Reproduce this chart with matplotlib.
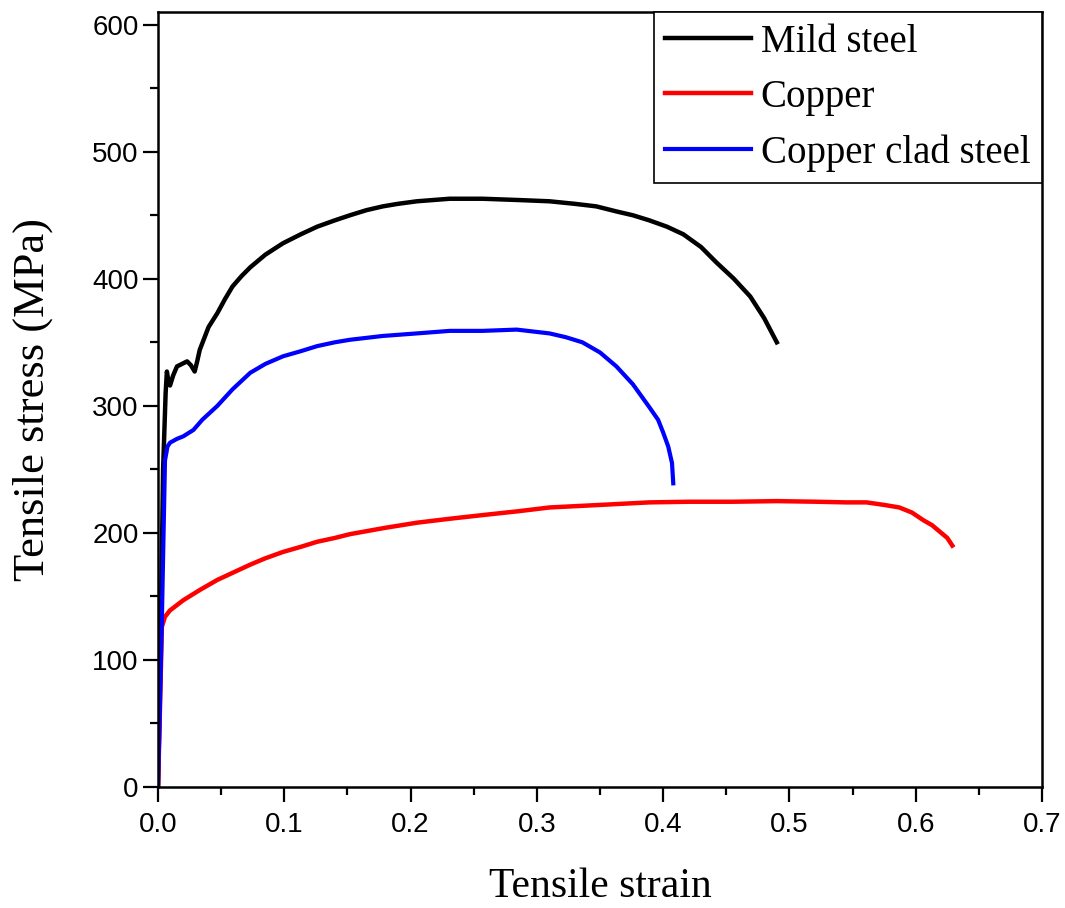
import matplotlib
matplotlib.use("Agg")
import matplotlib.pyplot as plt
from matplotlib.ticker import MultipleLocator

# strain / stress values
mild_strain = [0, 0.002, 0.004, 0.006, 0.007, 0.0085, 0.0095, 0.012, 0.015, 0.019, 0.023,
               0.026, 0.029, 0.031, 0.033, 0.04, 0.047, 0.053, 0.059, 0.066, 0.073, 0.085,
               0.099, 0.113, 0.126, 0.14, 0.152, 0.165, 0.178, 0.19, 0.205, 0.231, 0.257,
               0.285, 0.31, 0.33, 0.347, 0.363, 0.376, 0.389, 0.403, 0.416, 0.43, 0.442,
               0.456, 0.469, 0.48, 0.49]
mild_stress = [0, 110, 250, 310, 327, 318, 316, 324, 331, 333, 335,
               332, 327, 335, 344, 362, 373, 384, 394, 402, 409, 419,
               428, 435, 441, 446, 450, 454, 457, 459, 461, 463, 463,
               462, 461, 459, 457, 453, 450, 446, 441, 435, 425, 413,
               400, 386, 369, 350]

copper_strain = [0, 0.0015, 0.003, 0.0055, 0.0095, 0.02, 0.033, 0.047, 0.06, 0.073, 0.085,
                 0.099, 0.113, 0.126, 0.14, 0.152, 0.18, 0.205, 0.23, 0.257, 0.285, 0.31,
                 0.35, 0.389, 0.42, 0.455, 0.49, 0.522, 0.545, 0.561, 0.575, 0.587, 0.597,
                 0.606, 0.613, 0.619, 0.625, 0.629]
copper_stress = [0, 60, 126, 134, 139, 147, 155, 163, 169, 175, 180,
                 185, 189, 193, 196, 199, 204, 208, 211, 214, 217, 220,
                 222, 224, 224.5, 224.5, 225, 224.5, 224, 224, 222, 220, 216,
                 210, 206, 201, 196, 190]

clad_strain = [0, 0.003, 0.0055, 0.0075, 0.0095, 0.015, 0.02, 0.028, 0.035, 0.047, 0.059,
               0.073, 0.085, 0.099, 0.113, 0.126, 0.14, 0.152, 0.178, 0.205, 0.231, 0.257,
               0.284, 0.31, 0.323, 0.336, 0.35, 0.363, 0.376, 0.389, 0.396, 0.40, 0.404,
               0.407, 0.408]
clad_stress = [0, 130, 257, 268, 271, 274, 276, 281, 289, 300, 313,
               326, 333, 339, 343, 347, 350, 352, 355, 357, 359, 359,
               360, 357, 354, 350, 342, 331, 317, 299, 289, 279, 268,
               255, 239]

serif = ['Liberation Serif', 'DejaVu Serif']
sans = ['Liberation Sans', 'DejaVu Sans']

fig = plt.figure(figsize=(10.65, 9.08), dpi=100)
ax = fig.add_axes([0.1484, 0.1333, 0.8300, 0.8535])

ax.plot(mild_strain, mild_stress, color='black', lw=3.2, label='Mild steel')
ax.plot(copper_strain, copper_stress, color='#ff0000', lw=3.2, label='Copper')
ax.plot(clad_strain, clad_stress, color='#0000ff', lw=3, label='Copper clad steel')

ax.set_xlim(0, 0.7)
ax.set_ylim(0, 610)
ax.xaxis.set_minor_locator(MultipleLocator(0.05))
ax.yaxis.set_major_locator(MultipleLocator(100))
ax.yaxis.set_minor_locator(MultipleLocator(50))
ax.set_xticks([0, 0.1, 0.2, 0.3, 0.4, 0.5, 0.6, 0.7])
ax.set_xticklabels(['0.0', '0.1', '0.2', '0.3', '0.4', '0.5', '0.6', '0.7'])

ax.tick_params(which='major', direction='out', length=11, width=1.6)
ax.tick_params(which='minor', direction='out', length=6, width=1.6)
ax.tick_params(axis='x', which='major', pad=7)
ax.tick_params(axis='y', which='major', pad=3)
for lab in ax.get_xticklabels() + ax.get_yticklabels():
    lab.set_family(sans)
    lab.set_fontsize(20)
for sp in ax.spines.values():
    sp.set_linewidth(1.8)

ax.set_xlabel('Tensile strain', family=serif, fontsize=30, labelpad=21)
ax.set_ylabel('Tensile stress (MPa)', family=serif, fontsize=32, labelpad=28)

leg = ax.legend(loc='upper right', bbox_to_anchor=(1.0, 1.0), borderaxespad=0,
                prop={'family': serif, 'size': 28}, handlelength=2.2,
                handletextpad=0.25, labelspacing=0.47, borderpad=0.3,
                fancybox=False, framealpha=1, edgecolor='black')
leg.get_frame().set_linewidth(1.2)

fig.savefig('out.png', dpi=100)
